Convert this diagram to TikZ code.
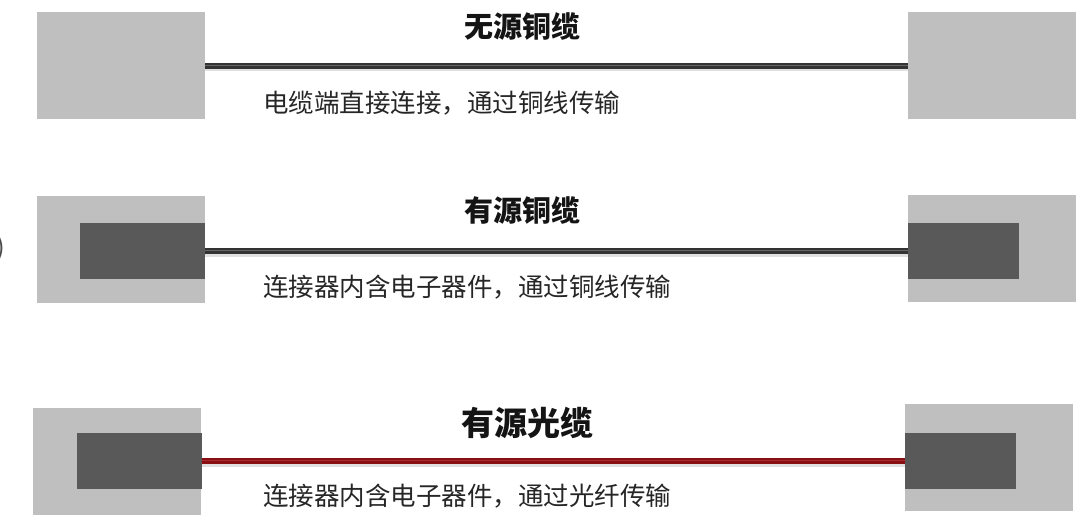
\documentclass[tikz,border=0pt]{standalone}
\usepackage{fontspec}
\newfontfamily\cjk{Noto Sans CJK SC}
\definecolor{boxlight}{HTML}{BFBFBF}
\definecolor{boxdark}{HTML}{595959}
\definecolor{cablered}{HTML}{8A0F12}
\definecolor{cableredhi}{HTML}{A82C2F}
\begin{document}
\begin{tikzpicture}[x=1pt,y=-1pt,
  outerbox/.style={fill=boxlight, draw=none, anchor=north west, inner sep=0pt, minimum width=168pt, minimum height=107pt},
  innerbox/.style={fill=boxdark, draw=none, inner sep=0pt, minimum height=56pt},
  title/.style={text=black!92, inner sep=0pt},
  subtitle/.style={font=\cjk\fontsize{25.5}{30}\selectfont, text=black!85, anchor=west, inner sep=0pt},
  cable/.style={line width=6pt, draw=black!80,
    preaction={draw=black!12, line width=6pt, transform canvas={yshift=-2.5pt}},
    postaction={draw=black!60, line width=1.1pt, transform canvas={yshift=0.6pt}}},
  redcable/.style={line width=6pt, draw=cablered,
    preaction={draw=black!12, line width=6pt, transform canvas={yshift=-2.5pt}},
    postaction={draw=cableredhi, line width=1.1pt, transform canvas={yshift=0.6pt}}}
]
\useasboundingbox (0,0) rectangle (1080,528);
\fill[white] (0,0) rectangle (1080,528);

% row 1
\node[outerbox] (L1) at (37,12) {};
\node[outerbox] (R1) at (908,12) {};
\draw[cable] (L1.east) -- (R1.west);
\node[title, font=\cjk\bfseries\fontsize{29}{34}\selectfont] (T1) at (522,26) {无源铜缆};
\node[subtitle] (S1) at (263,103) {电缆端直接连接，通过铜线传输};

% row 2
\node[outerbox] (L2) at (37,196) {};
\node[innerbox, minimum width=125pt, anchor=north west] (L2i) at (80,223) {};
\node[outerbox] (R2) at (908,195) {};
\node[innerbox, minimum width=111pt, anchor=north west] (R2i) at (908,223) {};
\draw[cable] (L2i.east) -- (R2i.west);
\node[title, font=\cjk\bfseries\fontsize{29}{34}\selectfont] (T2) at (522,210) {有源铜缆};
\node[subtitle] (S2) at (263,287) {连接器内含电子器件，通过铜线传输};

% row 3
\node[outerbox] (L3) at (33,408) {};
\node[innerbox, minimum width=125pt, anchor=north west] (L3i) at (77,433) {};
\node[outerbox] (R3) at (905,404) {};
\node[innerbox, minimum width=111pt, anchor=north west] (R3i) at (905,433) {};
\draw[redcable] (L3i.east) -- (R3i.west);
\node[title, font=\cjk\bfseries\fontsize{33}{38}\selectfont] (T3) at (527,423) {有源光缆};
\node[subtitle] (S3) at (263,496) {连接器内含电子器件，通过光纤传输};

% cropped glyph at left edge
\node[font=\cjk\fontsize{26}{30}\selectfont, text=black!70, anchor=east, inner sep=0pt] (P) at (5,248) {)};
\end{tikzpicture}
\end{document}
